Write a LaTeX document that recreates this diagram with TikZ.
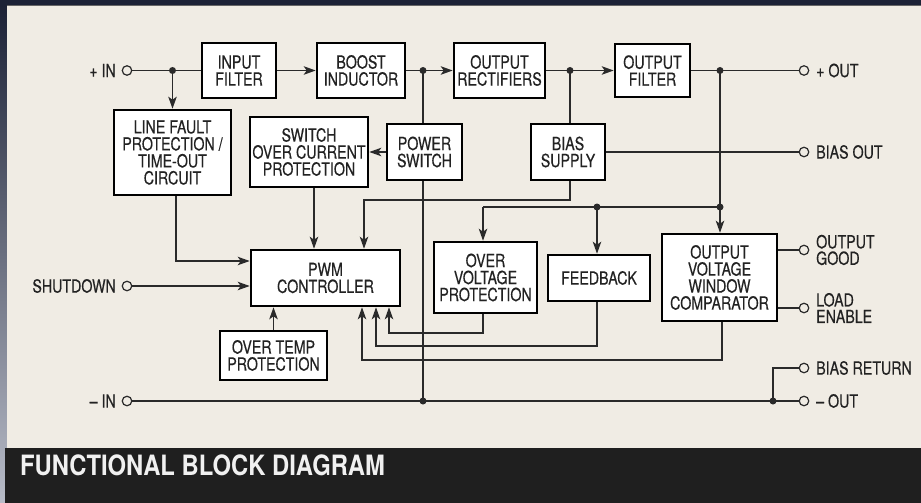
\documentclass[tikz,border=0pt]{standalone}
\usepackage{fontspec}
\newfontfamily\cond[FakeStretch=0.79,FakeBold=0.4]{TeX Gyre Heros}
\newfontfamily\titlef[FakeStretch=0.85]{TeX Gyre Heros}
\usetikzlibrary{arrows.meta}
\definecolor{bgc}{HTML}{F0ECE4}
\definecolor{bandc}{HTML}{1F1F1F}
\definecolor{outerc}{HTML}{1C2236}
\definecolor{stripc}{HTML}{B8BCC8}
\definecolor{wirec}{HTML}{2A2A2A}
\definecolor{txtc}{HTML}{222222}
\pgfdeclarelayer{back}
\pgfdeclarelayer{wires}
\pgfsetlayers{back,wires,main}
\tikzset{
  blk/.style={draw=black, line width=2.6pt, fill=white, align=center, inner sep=1pt,
    text=txtc, font=\cond\fontsize{18}{17}\selectfont},
  wire/.style={draw=wirec, line width=1.3pt},
  arr/.style={wire, -{Stealth[length=12pt,width=8.5pt,inset=3pt]}},
  dot/.style={circle, fill=wirec, inner sep=0pt, minimum size=7pt},
  term/.style={circle, draw=wirec, line width=1.2pt, fill=bgc, inner sep=0pt, minimum size=9.5pt},
  lbl/.style={inner sep=0pt, text=txtc, align=left, font=\cond\fontsize{18}{16.5}\selectfont},
}
\begin{document}
\begin{tikzpicture}[x=1pt,y=-1pt]
\useasboundingbox (0,0) rectangle (921,503);
\begin{pgfonlayer}{back}
  \fill[outerc] (0,0) rectangle (921,503);
  \shade[top color=outerc, bottom color=stripc] (0,5) rectangle (7,503);
  \fill[bgc] (7,5) rectangle (921,448);
  \draw[black!60, line width=0.8pt] (7,5) -- (921,5);
  \fill[bandc] (5,448) rectangle (921,503);
\end{pgfonlayer}

% blocks
\node[blk, minimum width=74pt, minimum height=55pt] (inf) at (239,70.5) {INPUT\\FILTER};
\node[blk, minimum width=88pt, minimum height=55pt] (boost) at (361,70.5) {BOOST\\INDUCTOR};
\node[blk, minimum width=91pt, minimum height=55pt] (rect) at (499.5,70.5) {OUTPUT\\RECTIFIERS};
\node[blk, minimum width=75pt, minimum height=53pt] (ofilt) at (652.5,70.5) {OUTPUT\\FILTER};
\node[blk, minimum width=117pt, minimum height=85pt] (lf) at (172.5,152.5) {LINE FAULT\\PROTECTION /\\TIME-OUT\\CIRCUIT};
\node[blk, minimum width=118pt, minimum height=70pt] (soc) at (309,152) {SWITCH\\OVER CURRENT\\PROTECTION};
\node[blk, minimum width=75pt, minimum height=56pt] (psw) at (424.5,152) {POWER\\SWITCH};
\node[blk, minimum width=74pt, minimum height=56pt] (bias) at (568,152) {BIAS\\SUPPLY};
\node[blk, minimum width=149pt, minimum height=56pt] (pwm) at (325.5,278) {PWM\\CONTROLLER};
\node[blk, minimum width=103pt, minimum height=71pt] (ovp) at (485.5,277.5) {OVER\\VOLTAGE\\PROTECTION};
\node[blk, minimum width=102pt, minimum height=46pt] (fb) at (599,278) {FEEDBACK};
\node[blk, minimum width=115pt, minimum height=87pt] (ovwc) at (719.5,277.5) {OUTPUT\\VOLTAGE\\WINDOW\\COMPARATOR};
\node[blk, minimum width=107pt, minimum height=49pt] (otemp) at (273.5,355.5) {OVER TEMP\\PROTECTION};

% terminals and junctions
\node[term] (tin) at (127,70.5) {};
\node[term] (tsd) at (127,286) {};
\node[term] (tnin) at (127,401) {};
\node[term] (tout) at (804,70.5) {};
\node[term] (tbias) at (804,152) {};
\node[term] (tgood) at (804,250) {};
\node[term] (tload) at (804,308) {};
\node[term] (tbr) at (804,368) {};
\node[term] (tnout) at (804,401) {};

\node[dot] (j1) at (172.5,70.5) {};
\node[dot] (j2) at (423,70.5) {};
\node[dot] (j3) at (570,70.5) {};
\node[dot] (j5) at (720,70.5) {};
\node[dot] (j6) at (720,207) {};
\node[dot] (j7) at (597,207) {};
\node[dot] (j4) at (423,401) {};
\node[dot] (j8) at (773,401) {};

\coordinate (c1) at (364,200);
\coordinate (c2) at (314,0);
\coordinate (c3) at (176,261);
\coordinate (c4) at (389,333);
\coordinate (c5) at (483,333);
\coordinate (c6) at (376,346);
\coordinate (c7) at (597,346);
\coordinate (c8) at (483,207);
\coordinate (c9) at (362,360);
\coordinate (c10) at (722,360);

% labels
\node[lbl, anchor=east] (lin) at (116,70.5) {+ IN};
\node[lbl, anchor=east] (lsd) at (116,286) {SHUTDOWN};
\node[lbl, anchor=east] (lnin) at (116,401) {– IN};
\node[lbl, anchor=west] (lout) at (816,70.5) {+ OUT};
\node[lbl, anchor=west] (lbias) at (816,152) {BIAS OUT};
\node[lbl, anchor=west] (lgood) at (816,250) {OUTPUT\\GOOD};
\node[lbl, anchor=west] (lload) at (816,308) {LOAD\\ENABLE};
\node[lbl, anchor=west] (lbr) at (816,368) {BIAS RETURN};
\node[lbl, anchor=west] (lnout) at (816,401) {– OUT};
\node[inner sep=0pt, anchor=base west, text=white!94!black,
  font=\titlef\bfseries\fontsize{28}{30}\selectfont] (title) at (20,475) {FUNCTIONAL BLOCK DIAGRAM};

% connectors
\begin{pgfonlayer}{wires}
\draw[wire] (tin) -- (inf.west);
\draw[arr] (j1.center) -- (lf.north);
\draw[arr] (inf.east) -- (boost.west);
\draw[arr] (boost.east) -- (rect.west);
\draw[wire] (j2.center) -- (j2 |- psw.north);
\draw[wire] (psw.south -| j2) -- (j4.center);
\draw[arr] (psw.west) -- (soc.east);
\draw[arr] (rect.east) -- (ofilt.west);
\draw[wire] (j3.center) -- (j3 |- bias.north);
\draw[wire] (ofilt.east) -- (tout);
\draw[wire] (j5.center) -- (j6.center);
\draw[arr] (j6.center) -- (j6 |- ovwc.north);
\draw[wire] (bias.east) -- (tbias);
\draw[arr] (bias.south -| j3) |- (c1) -- (c1 |- pwm.north);
\draw[arr] (soc.south -| c2) -- (pwm.north -| c2);
\draw[arr] (lf.south -| c3) -- (c3) -- (c3 -| pwm.west);
\draw[arr] (tsd) -- (tsd -| pwm.west);
\draw[arr] (otemp.north) -- (otemp.north |- pwm.south);
\draw[arr] (ovp.south -| c5) -- (c5) -- (c4) -- (c4 |- pwm.south);
\draw[arr] (fb.south -| c7) -- (c7) -- (c6) -- (c6 |- pwm.south);
\draw[arr] (ovwc.south -| c10) -- (c10) -- (c9) -- (c9 |- pwm.south);
\draw[wire] (j6.center) -- (c8);
\draw[arr] (c8) -- (c8 |- ovp.north);
\draw[arr] (j7.center) -- (j7 |- fb.north);
\draw[wire] (tgood -| ovwc.east) -- (tgood);
\draw[wire] (tload -| ovwc.east) -- (tload);
\draw[wire] (tnin) -- (tnout);
\draw[wire] (j8.center) |- (tbr);
\end{pgfonlayer}
\end{tikzpicture}
\end{document}
